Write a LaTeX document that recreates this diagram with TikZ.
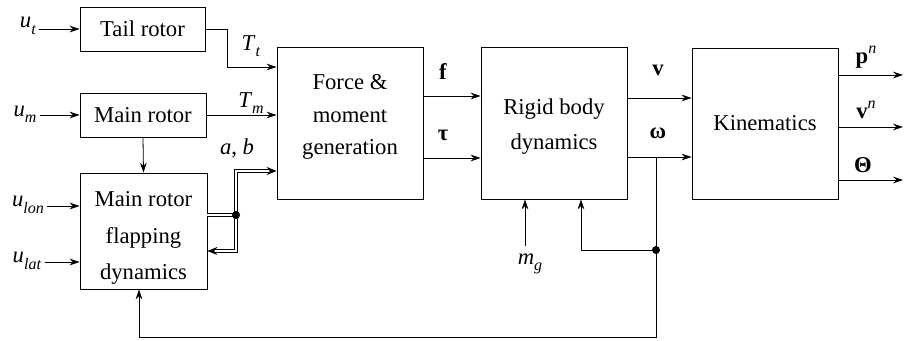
\documentclass[tikz,border=0pt]{standalone}
\usepackage{fontspec}
\setmainfont{Liberation Serif}
\usetikzlibrary{arrows.meta}
\newcommand\subv[2]{\textit{#1}\raisebox{-0.6ex}{\fontsize{12}{12}\selectfont\textit{#2}}}
\newcommand\supv[2]{#1\raisebox{1.0ex}{\fontsize{12}{12}\selectfont\textit{#2}}}
\begin{document}
\begin{tikzpicture}[x=0.75pt,y=-0.75pt,
  font=\fontsize{17}{26}\selectfont,
  blk/.style={draw, line width=0.6pt, inner sep=0pt, align=center},
  txt/.style={inner sep=0pt, align=center},
  lbl/.style={inner sep=0pt},
  conn/.style={line width=0.6pt, -{Stealth[length=7.5pt,width=5pt,inset=2.5pt]}},
  plain/.style={line width=0.6pt},
  dbl/.style={double, double distance=2pt, line width=0.6pt},
  dtip/.style={{Stealth[length=7.5pt,width=6pt,inset=2.5pt]}-{Stealth[length=7.5pt,width=6pt,inset=2.5pt]}},
  ]
\useasboundingbox (0,0) rectangle (907,341);

% blocks
\node[blk, minimum width=93.75pt, minimum height=33pt] (tail) at (142.5,29) {Tail rotor};
\node[blk, minimum width=94.5pt, minimum height=33pt] (main) at (143,115) {Main rotor};
\node[blk, minimum width=95.25pt, minimum height=87pt] (flap) at (143.5,231) {};
\node[txt, font=\fontsize{17}{27.4}\selectfont] (flapt) at (143.5,238) {Main rotor\\flapping\\dynamics};
\node[blk, minimum width=109.5pt, minimum height=114pt] (force) at (350,123) {};
\node[txt, font=\fontsize{17}{24.5}\selectfont] (forcet) at (350,117) {Force \&\\moment\\generation};
\node[blk, minimum width=109.5pt, minimum height=114pt] (rigid) at (554,123) {};
\node[txt, font=\fontsize{17}{26}\selectfont] (rigidt) at (554,126.5) {Rigid body\\dynamics};
\node[blk, minimum width=109.5pt, minimum height=113.25pt] (kin) at (765,123.5) {Kinematics};

% labels
\node[lbl] (ut) at (28,26) {\subv{u}{t}};
\node[lbl] (um) at (25,114) {\subv{u}{m}};
\node[lbl] (ulon) at (28,205) {\subv{u}{lon}};
\node[lbl] (ulat) at (27,261) {\subv{u}{lat}};
\node[lbl] (Tt) at (251,46) {\subv{T}{t}};
\node[lbl] (Tm) at (251,103) {\subv{T}{m}};
\node[lbl] (ab) at (237,148) {\textit{a}, \textit{b}};
\node[lbl] (f) at (443,72) {\textbf{f}};
\node[lbl] (tau) at (443,135) {\textbf{τ}};
\node[lbl] (v) at (658,70) {\textbf{v}};
\node[lbl] (w) at (658,133) {\textbf{ω}};
\node[lbl] (mg) at (530,264) {\subv{m}{g}};
\node[lbl] (pn) at (866,57) {\supv{\textbf{p}}{n}};
\node[lbl] (vn) at (866,110) {\supv{\textbf{v}}{n}};
\node[lbl] (th) at (863,165) {\textbf{Θ}};

% coordinates
\coordinate (jn) at (236,215);
\coordinate (fb) at (656,250);
\coordinate (wtap) at (656,157);
\coordinate (fbx) at (139,337);
\coordinate (rbx) at (581,250);
\coordinate (mgs) at (525,246);
\coordinate (pend) at (903,75);
\coordinate (vend) at (903,127);
\coordinate (thend) at (903,180);

% inputs
\draw[conn] (ut.east |- tail.west) ++(3,0) -- (tail.west);
\draw[conn] (um.east |- main.west) ++(3,0) -- (main.west);
\draw[conn] (ulon.east |- 0,206) ++(3,0) -- (flap.west |- 0,206);
\draw[conn] (ulat.east |- 0,262) ++(3,0) -- (flap.west |- 0,262);

% rotor outputs
\draw[conn] (tail.east) -- ++(22,0) |- (force.west |- 0,67);
\draw[conn] (main.east) -- (force.west |- main.east);
\draw[conn] (main.south) -- (flap.north);

% a,b double lines
\draw[dbl] (flap.east |- jn) -- (jn);
\draw[dbl, dtip] (force.west |- 0,171) -| (jn |- 0,251) -- (flap.east |- 0,251);
\fill (jn) circle [radius=3pt];

% force -> rigid
\draw[conn] (force.east |- 0,96) -- (rigid.west |- 0,96);
\draw[conn] (force.east |- 0,158) -- (rigid.west |- 0,158);

% rigid -> kin
\draw[conn] (rigid.east |- 0,98) -- (kin.west |- 0,98);
\draw[conn] (rigid.east |- wtap) -- (kin.west |- wtap);

% kin outputs
\draw[conn] (kin.east |- pend) -- (pend);
\draw[conn] (kin.east |- vend) -- (vend);
\draw[conn] (kin.east |- thend) -- (thend);

% mg
\draw[conn] (mgs) -- (rigid.south -| mgs);

% feedback
\draw[plain] (wtap) -- (fb);
\draw[conn] (fb) -- (rbx) -- (rigid.south -| rbx);
\draw[conn] (fb) |- (fbx) -- (flap.south -| fbx);
\fill (fb) circle [radius=3pt];
\end{tikzpicture}
\end{document}
